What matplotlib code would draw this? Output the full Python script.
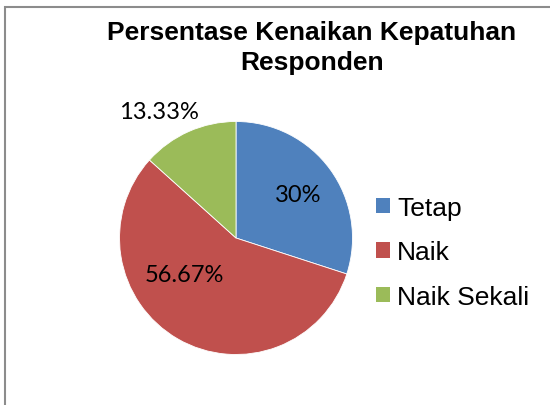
import matplotlib.pyplot as plt
from matplotlib.patches import Rectangle, Patch

# data
categories = ['Tetap', 'Naik', 'Naik Sekali']
values = [30, 56.67, 13.33]
pct_labels = ['30%', '56.67%', '13.33%']
colors = ['#4F81BD', '#C0504D', '#9BBB59']
title = 'Persentase Kenaikan Kepatuhan\nResponden'

# label positions in pie-radius units (Excel "best fit" placement)
label_pos = [(0.53, 0.37), (-0.44, -0.31), (-0.66, 1.09)]

W, H = 550, 406
fig = plt.figure(figsize=(W / 100, H / 100), dpi=100)

# chart border (right and bottom edges are cut off in the original)
fig.patches.append(Rectangle((5 / W, -0.1), 1.2, 1 - 8 / H + 0.1,
                             transform=fig.transFigure, fill=False,
                             edgecolor='#8c8c8c', linewidth=1.5))

cx, cy, r = 236, 239, 116.5
ax = fig.add_axes([(cx - r) / W, (H - cy - r) / H, 2 * r / W, 2 * r / H])
ax.pie(values, colors=colors, startangle=90, counterclock=False,
       radius=1, wedgeprops=dict(edgecolor='white', linewidth=0.6))
ax.set_xlim(-1, 1)
ax.set_ylim(-1, 1)
ax.set_aspect('equal')
ax.axis('off')

for txt, (x, y) in zip(pct_labels, label_pos):
    ax.text(x, y, txt, ha='center', va='center', fontsize=17,
            family='Lato', clip_on=False)

fig.text(312 / W, 1 - 48 / H, title, ha='center', va='center',
         fontsize=19, fontweight='bold', family='Liberation Sans',
         linespacing=1.32)

handles = [Patch(facecolor=c, edgecolor='none') for c in colors]
fig.legend(handles, categories, loc='upper left',
           bbox_to_anchor=(376 / W, 1 - 197 / H), frameon=False,
           prop=dict(family='Liberation Sans', size=19),
           handlelength=0.53, handleheight=0.53, handletextpad=0.27,
           labelspacing=0.77, borderpad=0, borderaxespad=0)

fig.savefig('out.png', dpi=100)
